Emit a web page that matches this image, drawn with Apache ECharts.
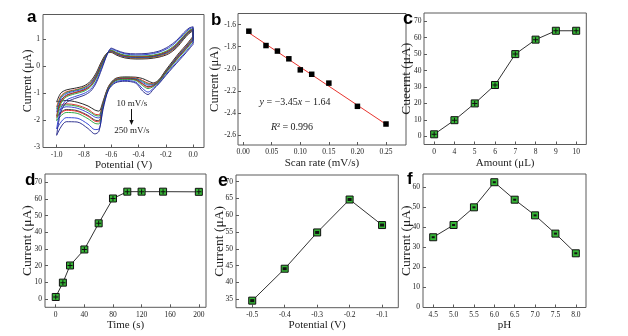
<!DOCTYPE html>
<html>
<head>
<meta charset="utf-8">
<script src="https://cdn.jsdelivr.net/npm/echarts@6/dist/echarts.min.js"></script>
<style>
html, body { margin: 0; padding: 0; background: #fff; }
#chart { width: 628px; height: 336px; }
</style>
</head>
<body>
<div id="chart"></div>
<script>
// ---- (a) cyclic voltammograms: shared potential path (cathodic sweep 0 -> -1.0 V, then back to 0 V)
const cvPotential = [0.0, -0.05, -0.1, -0.15, -0.2, -0.25, -0.29, -0.33, -0.37, -0.42, -0.5, -0.57, -0.62, -0.66, -0.69, -0.72, -0.77, -0.85, -0.93, -1.0,
  -0.97, -0.93, -0.87, -0.8, -0.75, -0.71, -0.67, -0.63, -0.6, -0.56, -0.5, -0.42, -0.33, -0.25, -0.18, -0.12, -0.07, -0.03, 0.0];
// current (μA) along that path, one list per scan rate
const cv10  = [1.1, 0.78, 0.5, 0.18, -0.15, -0.5, -0.62, -0.55, -0.46, -0.41, -0.4, -0.46, -0.75, -1.3, -1.66, -1.62, -1.47, -1.33, -1.27, -1.32,
  -1.0, -0.88, -0.82, -0.73, -0.55, -0.25, 0.18, 0.48, 0.5, 0.4, 0.3, 0.26, 0.27, 0.33, 0.45, 0.68, 0.98, 1.2, 1.3];
const cv40  = [1.06, 0.74, 0.46, 0.14, -0.18, -0.52, -0.65, -0.63, -0.53, -0.44, -0.42, -0.48, -0.77, -1.35, -1.79, -1.77, -1.59, -1.44, -1.39, -1.5,
  -1.11, -0.95, -0.88, -0.78, -0.61, -0.31, 0.14, 0.47, 0.52, 0.43, 0.33, 0.29, 0.3, 0.36, 0.49, 0.72, 1.02, 1.23, 1.32];
const cv60  = [1.04, 0.72, 0.44, 0.13, -0.19, -0.53, -0.67, -0.66, -0.56, -0.46, -0.43, -0.49, -0.78, -1.36, -1.84, -1.81, -1.64, -1.48, -1.43, -1.58,
  -1.15, -0.98, -0.9, -0.8, -0.63, -0.33, 0.12, 0.47, 0.53, 0.44, 0.34, 0.3, 0.31, 0.38, 0.51, 0.74, 1.03, 1.24, 1.33];
const cv80  = [1.01, 0.7, 0.42, 0.11, -0.21, -0.55, -0.69, -0.7, -0.6, -0.48, -0.45, -0.51, -0.79, -1.39, -1.91, -1.88, -1.72, -1.55, -1.5, -1.69,
  -1.21, -1.02, -0.93, -0.84, -0.66, -0.36, 0.09, 0.46, 0.55, 0.45, 0.35, 0.32, 0.33, 0.4, 0.53, 0.76, 1.05, 1.26, 1.35];
const cv100 = [0.97, 0.66, 0.38, 0.08, -0.23, -0.56, -0.72, -0.76, -0.65, -0.5, -0.47, -0.53, -0.81, -1.43, -2.01, -1.99, -1.82, -1.64, -1.6, -1.84,
  -1.29, -1.08, -0.98, -0.88, -0.71, -0.41, 0.05, 0.46, 0.57, 0.48, 0.38, 0.34, 0.35, 0.42, 0.56, 0.79, 1.08, 1.28, 1.36];
const cv120 = [0.96, 0.65, 0.37, 0.07, -0.24, -0.57, -0.73, -0.78, -0.67, -0.51, -0.47, -0.53, -0.81, -1.44, -2.05, -2.03, -1.85, -1.67, -1.63, -1.89,
  -1.32, -1.1, -0.99, -0.89, -0.72, -0.42, 0.04, 0.45, 0.57, 0.48, 0.38, 0.35, 0.36, 0.43, 0.57, 0.8, 1.09, 1.29, 1.37];
const cv150 = [0.93, 0.62, 0.34, 0.05, -0.26, -0.58, -0.75, -0.83, -0.72, -0.53, -0.49, -0.55, -0.82, -1.47, -2.13, -2.11, -1.94, -1.74, -1.71, -2.01,
  -1.39, -1.14, -1.03, -0.93, -0.76, -0.46, 0.01, 0.45, 0.59, 0.5, 0.4, 0.37, 0.38, 0.45, 0.6, 0.83, 1.11, 1.31, 1.38];
const cv200 = [0.86, 0.55, 0.27, -0.01, -0.31, -0.62, -0.81, -0.96, -0.83, -0.59, -0.53, -0.59, -0.86, -1.54, -2.32, -2.34, -2.14, -1.92, -1.9, -2.32,
  -1.57, -1.26, -1.13, -1.01, -0.85, -0.55, -0.06, 0.43, 0.63, 0.55, 0.45, 0.41, 0.43, 0.51, 0.67, 0.9, 1.17, 1.36, 1.42];
const cv250 = [0.8, 0.5, 0.22, -0.06, -0.35, -0.65, -0.85, -1.05, -0.92, -0.63, -0.56, -0.62, -0.88, -1.6, -2.4, -2.5, -2.3, -2.06, -2.05, -2.55,
  -1.7, -1.35, -1.2, -1.08, -0.92, -0.62, -0.12, 0.42, 0.66, 0.58, 0.48, 0.45, 0.47, 0.55, 0.72, 0.95, 1.22, 1.4, 1.45];
const cvCurves = [cv10, cv40, cv60, cv80, cv100, cv120, cv150, cv200, cv250];
const cvColors = ['#111111', '#e3201c', '#1f9e3a', '#2438d4', '#2a2a2a', '#e3201c', '#1f9e3a', '#2438d4', '#1c1f86'];
const cvPotentialTicks = [-1.0, -0.8, -0.6, -0.4, -0.2, 0.0];
const cvCurrentTicks = [-3, -2, -1, 0, 1];

// ---- (b) peak current vs scan rate with linear fit
const scanRate = [0.01, 0.04, 0.06, 0.08, 0.10, 0.12, 0.15, 0.20, 0.25];
const peakCurrent = [-1.66, -1.79, -1.84, -1.91, -2.01, -2.05, -2.13, -2.34, -2.50];
const fitSlope = -3.45;
const fitIntercept = -1.64;
const fitR2 = 0.996;
const scanRateTicks = [0, 0.05, 0.10, 0.15, 0.20, 0.25];
const peakTicks = [-2.6, -2.4, -2.2, -2.0, -1.8, -1.6];

// ---- (c) amount
const amountLabels = ['0', '4', '5', '6', '7', '8', '9', '10'];
const amountCurrent = [1.2, 9.8, 20.0, 31.2, 50.0, 58.8, 64.2, 64.2];
const amountTicks = [0, 10, 20, 30, 40, 50, 60, 70];

// ---- (d) time
const timeS = [0, 10, 20, 40, 60, 80, 100, 120, 150, 200];
const timeCurrent = [1.2, 9.8, 20.1, 29.7, 45.4, 60.3, 64.4, 64.4, 64.4, 64.3];
const timeTicks = [0, 40, 80, 120, 160, 200];
const timeCurrentTicks = [0, 10, 20, 30, 40, 50, 60, 70];

// ---- (e) deposition potential
const depPotential = [-0.5, -0.4, -0.3, -0.2, -0.1];
const depCurrent = [34.6, 44.1, 54.9, 64.7, 57.1];
const depPotentialTicks = [-0.5, -0.4, -0.3, -0.2, -0.1];
const depCurrentTicks = [35, 40, 45, 50, 55, 60, 65, 70];

// ---- (f) pH
const phValues = [4.5, 5.0, 5.5, 6.0, 6.5, 7.0, 7.5, 8.0];
const phCurrent = [35.0, 41.1, 49.9, 62.4, 53.7, 45.9, 36.8, 27.0];
const phTicks = [4.5, 5.0, 5.5, 6.0, 6.5, 7.0, 7.5, 8.0];
const phCurrentTicks = [0, 10, 20, 30, 40, 50, 60];

const SERIF = '"Liberation Serif", "Times New Roman", serif';
const SANS = '"Liberation Sans", Arial, sans-serif';
const FRAME = '#5a5a5a';
const TXT = '#222';
const GREEN = '#36b536';
const CROSS = 'path://M4,0H6V4H10V6H6V10H4V6H0V4H4Z';

function fmt(d) { return v => Number(v).toFixed(d); }

function valueAxis(gi, min, max, ticks, digits, name, nameGap, margin, nameSize) {
  return {
    type: 'value', gridIndex: gi, min: min, max: max,
    name: name, nameLocation: 'middle', nameGap: nameGap,
    nameTextStyle: { fontFamily: SERIF, fontSize: nameSize || 11, color: TXT },
    axisLine: { show: false, onZero: false },
    axisTick: { show: true, inside: true, length: 3, customValues: ticks, lineStyle: { color: FRAME, width: 1 } },
    axisLabel: { customValues: ticks, formatter: fmt(digits), fontFamily: SERIF, fontSize: 7.5, color: TXT, margin: margin },
    splitLine: { show: false }
  };
}

// vertical axes keep their titles exactly where the gap puts them
function currentAxis(gi, min, max, ticks, digits, name, nameGap, margin, nameSize) {
  const ax = valueAxis(gi, min, max, ticks, digits, name, nameGap, margin, nameSize);
  ax.nameMoveOverlap = false;
  return ax;
}

function frame(left, top, width, height) {
  return { left: left, top: top, width: width, height: height, show: true, borderColor: FRAME, borderWidth: 1, backgroundColor: 'transparent' };
}

function markerSeries(xi, data, inner, innerSize) {
  return [
    { type: 'line', xAxisIndex: xi, yAxisIndex: xi, data: data, symbol: 'rect', symbolSize: 7, showSymbol: true,
      lineStyle: { color: '#333', width: 1 }, itemStyle: { color: GREEN, borderColor: '#111', borderWidth: 1, opacity: 1 }, z: 3, animation: false },
    { type: 'scatter', xAxisIndex: xi, yAxisIndex: xi, data: data, symbol: inner, symbolSize: innerSize,
      itemStyle: { color: '#111', opacity: 1 }, z: 4, silent: true, animation: false }
  ];
}

const cvSeries = cvCurves.map((cur, k) => {
  const pts = cvPotential.map((p, i) => [p, cur[i]]);
  pts.push([cvPotential[0], cur[0]]);
  return { type: 'line', xAxisIndex: 0, yAxisIndex: 0, data: pts, showSymbol: false, smooth: 0.3,
    lineStyle: { color: cvColors[k], width: 0.9 }, z: 2, animation: false };
});

const fitX = [scanRate[0], scanRate[scanRate.length - 1]];
const fitLine = fitX.map(x => [x, fitSlope * x + fitIntercept]);

const option = {
  backgroundColor: '#fff',
  animation: false,
  grid: [
    frame(43, 14.5, 161, 133),
    frame(238, 13.5, 168, 131.5),
    frame(424, 13, 162.3, 131.5),
    frame(45, 174, 161, 133.3),
    frame(236, 175, 162.3, 132.7),
    frame(423, 174, 163, 133.5)
  ],
  xAxis: [
    valueAxis(0, -1.1, 0.08, cvPotentialTicks, 1, 'Potential (V)', 10, 3.5),
    valueAxis(1, -0.009, 0.285, scanRateTicks, 2, 'Scan rate (mV/s)', 12, 3.5),
    { type: 'category', gridIndex: 2, data: amountLabels, boundaryGap: true,
      name: 'Amount (μL)', nameLocation: 'middle', nameGap: 13, nameTextStyle: { fontFamily: SERIF, fontSize: 11, color: TXT },
      axisLine: { show: false, onZero: false },
      axisTick: { show: true, inside: true, length: 3, alignWithLabel: true, lineStyle: { color: FRAME, width: 1 } },
      axisLabel: { fontFamily: SERIF, fontSize: 7.5, color: TXT, margin: 3.5 },
      splitLine: { show: false } },
    valueAxis(3, -15, 210, timeTicks, 0, 'Time (s)', 11, 3.5),
    valueAxis(4, -0.55, -0.05, depPotentialTicks, 1, 'Potential (V)', 11, 3.5),
    valueAxis(5, 4.25, 8.25, phTicks, 1, 'pH', 11, 3.5)
  ],
  yAxis: [
    currentAxis(0, -3, 1.9, cvCurrentTicks, 0, 'Current (μA)', 9, 3, 12),
    currentAxis(1, -2.69, -1.5, peakTicks, 1, 'Current (μA)', 16.5, 2, 12.5),
    currentAxis(2, -5, 75, amountTicks, 0, 'Cueernt (μA)', 10.5, 2.5, 13.5),
    currentAxis(3, -5, 75, timeCurrentTicks, 0, 'Current (μA)', 10.5, 3, 13.5),
    currentAxis(4, 32.5, 72, depCurrentTicks, 0, 'Current (μA)', 9.5, 3, 13.5),
    currentAxis(5, 0, 66.5, phCurrentTicks, 0, 'Current (μA)', 9.5, 3, 13.5)
  ],
  series: [].concat(
    cvSeries,
    [
      { type: 'line', xAxisIndex: 1, yAxisIndex: 1, data: fitLine, showSymbol: false,
        lineStyle: { color: '#e8342e', width: 1 }, z: 2, animation: false },
      { type: 'scatter', xAxisIndex: 1, yAxisIndex: 1, data: scanRate.map((x, i) => [x, peakCurrent[i]]),
        symbol: 'rect', symbolSize: 5.5, itemStyle: { color: '#000', opacity: 1 }, z: 3, animation: false }
    ],
    markerSeries(2, amountCurrent, CROSS, 5),
    markerSeries(3, timeS.map((t, i) => [t, timeCurrent[i]]), CROSS, 5),
    markerSeries(4, depPotential.map((p, i) => [p, depCurrent[i]]), 'rect', [4, 3]),
    markerSeries(5, phValues.map((p, i) => [p, phCurrent[i]]), 'rect', [3, 2])
  ),
  graphic: [
    { type: 'text', x: 27, y: 17, style: { text: 'a', font: 'bold 17px ' + SANS, fill: '#000', verticalAlign: 'middle' } },
    { type: 'text', x: 211, y: 20.5, style: { text: 'b', font: 'bold 17px ' + SANS, fill: '#000', verticalAlign: 'middle' } },
    { type: 'text', x: 403, y: 19, style: { text: 'c', font: 'bold 18px ' + SANS, fill: '#000', verticalAlign: 'middle' } },
    { type: 'text', x: 25, y: 180.5, style: { text: 'd', font: 'bold 17px ' + SANS, fill: '#000', verticalAlign: 'middle' } },
    { type: 'text', x: 218, y: 181, style: { text: 'e', font: 'bold 18px ' + SANS, fill: '#000', verticalAlign: 'middle' } },
    { type: 'text', x: 407, y: 179, style: { text: 'f', font: 'bold 17px ' + SANS, fill: '#000', verticalAlign: 'middle' } },
    // scan-rate annotation in (a)
    { type: 'text', x: 132, y: 104, style: { text: '10 mV/s', font: '9px ' + SERIF, fill: TXT, align: 'center', verticalAlign: 'middle' } },
    { type: 'line', shape: { x1: 131.5, y1: 109, x2: 131.5, y2: 121 }, style: { stroke: '#111', lineWidth: 1 } },
    { type: 'polygon', shape: { points: [[129.3, 120], [133.7, 120], [131.5, 125]] }, style: { fill: '#111' } },
    { type: 'text', x: 132, y: 131, style: { text: '250 mV/s', font: '9px ' + SERIF, fill: TXT, align: 'center', verticalAlign: 'middle' } },
    // fit equation in (b)
    { type: 'text', x: 295, y: 102, style: {
      text: '{i|y} = −' + Math.abs(fitSlope).toFixed(2) + '{i|x} − ' + Math.abs(fitIntercept).toFixed(2),
      font: '10px ' + SERIF, fill: TXT, align: 'center', verticalAlign: 'middle',
      rich: { i: { fontFamily: SERIF, fontSize: 10, fontStyle: 'italic', fill: TXT } } } },
    { type: 'text', x: 292, y: 127, style: {
      text: '{i|R}² = ' + fitR2.toFixed(3),
      font: '10px ' + SERIF, fill: TXT, align: 'center', verticalAlign: 'middle',
      rich: { i: { fontFamily: SERIF, fontSize: 10, fontStyle: 'italic', fill: TXT } } } }
  ]
};

const chart = echarts.init(document.getElementById('chart'), null, { renderer: 'canvas' });
chart.setOption(option);
</script>
</body>
</html>
